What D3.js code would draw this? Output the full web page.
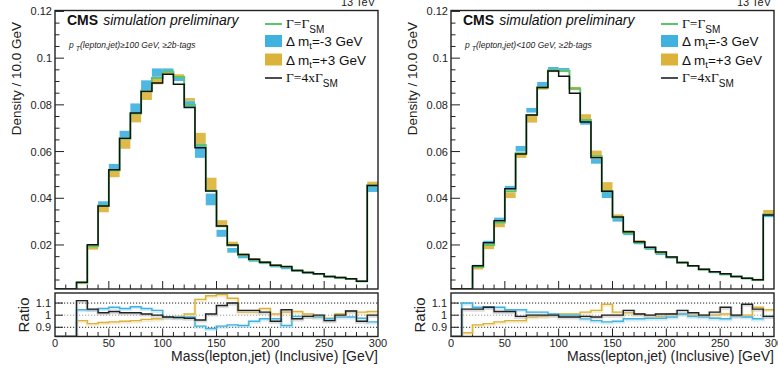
<!DOCTYPE html>
<html><head><meta charset="utf-8">
<script src="https://cdn.jsdelivr.net/npm/d3@7"></script>
<style>
html,body{margin:0;padding:0;background:#fff;}
svg{display:block;font-family:"Liberation Sans",Arial,sans-serif;}
</style></head>
<body><svg id="c" width="778" height="374"></svg>
<script>
// ---- data ----
const binLow = [0,10,20,30,40,50,60,70,80,90,100,110,120,130,140,150,160,170,180,190,200,210,220,230,240,250,260,270,280,290];
const binWidth = 10;
const xTicks = [0,50,100,150,200,250,300];
const yTicks = [0.02,0.04,0.06,0.08,0.1,0.12];
const yTickLabels = ["0.02","0.04","0.06","0.08","0.1","0.12"];
const ratioTicks = [0.9,1,1.1];
const ratioTickLabels = ["0.9","1","1.1"];

const leftNominal = [0,0,0.0038,0.0195,0.0368,0.0520,0.0655,0.0763,0.0860,0.0915,0.0942,0.0919,0.0800,0.0628,0.0432,0.0280,0.0198,0.0156,0.0137,0.0125,0.0112,0.0106,0.0091,0.0082,0.0076,0.0065,0.0060,0.0054,0.0045,0.0455];
const leftWidth4x = [0,0,0.0040,0.0201,0.0367,0.0522,0.0657,0.0765,0.0857,0.0894,0.0931,0.0888,0.0789,0.0616,0.0431,0.0281,0.0200,0.0159,0.0139,0.0126,0.0113,0.0108,0.0091,0.0082,0.0077,0.0065,0.0061,0.0055,0.0045,0.0455];
const leftMtm3 = [0,0,0.0038,0.0200,0.0377,0.0535,0.0675,0.0785,0.0882,0.0938,0.0947,0.0910,0.0803,0.0604,0.0395,0.0250,0.0177,0.0150,0.0133,0.0122,0.0108,0.0100,0.0089,0.0080,0.0074,0.0064,0.0059,0.0053,0.0044,0.0441];
const leftMtm3Err = [0,0,0.0003,0.0004,0.0010,0.0012,0.0014,0.0021,0.0023,0.0018,0.0009,0.0008,0.0013,0.0031,0.0025,0.0015,0.0010,0.0007,0.0005,0.0004,0.0004,0.0004,0.0003,0.0003,0.0003,0.0003,0.0003,0.0003,0.0003,0.0014];
const leftMtp3 = [0,0,0.0035,0.0188,0.0353,0.0505,0.0632,0.0745,0.0837,0.0902,0.0937,0.0925,0.0823,0.0657,0.0460,0.0293,0.0207,0.0160,0.0141,0.0128,0.0113,0.0107,0.0092,0.0083,0.0076,0.0064,0.0061,0.0055,0.0045,0.0463];
const leftMtp3Err = [0,0,0.0003,0.0008,0.0013,0.0015,0.0020,0.0020,0.0016,0.0014,0.0006,0.0006,0.0006,0.0023,0.0028,0.0013,0.0007,0.0004,0.0003,0.0003,0.0003,0.0003,0.0003,0.0003,0.0003,0.0003,0.0003,0.0003,0.0003,0.0008];
const leftRatio4x = [0,0,1.12,1.05,1.02,1.03,1.02,1.02,1.01,1.0,0.985,0.98,0.975,0.96,1.01,1.08,1.10,1.04,1.04,1.025,0.95,1.045,0.97,0.99,1.0,0.955,1.0,1.035,0.95,1.0];
const leftRatioMtm3 = [0,0,1.045,1.045,1.055,1.065,1.055,1.07,1.055,1.04,0.985,0.985,0.985,0.91,0.89,0.91,0.92,0.915,0.95,0.97,0.97,0.915,0.99,0.99,0.985,0.97,0.985,0.985,0.975,0.945];
const leftRatioMtp3 = [0,0,0.955,0.93,0.94,0.945,0.95,0.955,0.965,0.97,0.985,0.99,1.01,1.13,1.16,1.17,1.14,1.025,1.025,1.055,1.01,1.025,1.03,1.01,0.985,0.975,1.01,1.035,1.025,1.03];

const rightNominal = [0,0.0004,0.0106,0.0200,0.0296,0.0430,0.0593,0.0757,0.0874,0.0947,0.0945,0.0870,0.0735,0.0580,0.0430,0.0318,0.0251,0.0212,0.0188,0.0168,0.0147,0.0124,0.0110,0.0095,0.0084,0.0075,0.0065,0.0057,0.0050,0.0330];
const rightWidth4x = [0,0.0004,0.0111,0.0210,0.0304,0.0441,0.0590,0.0757,0.0874,0.0945,0.0923,0.0850,0.0727,0.0573,0.0430,0.0320,0.0257,0.0214,0.0190,0.0170,0.0148,0.0125,0.0111,0.0096,0.0085,0.0077,0.0065,0.0058,0.0051,0.0328];
const rightMtm3 = [0,0.0004,0.0112,0.0212,0.0310,0.0445,0.0612,0.0777,0.0886,0.0955,0.0952,0.0870,0.0725,0.0558,0.0414,0.0310,0.0247,0.0207,0.0183,0.0162,0.0145,0.0125,0.0109,0.0094,0.0082,0.0073,0.0064,0.0056,0.0048,0.0325];
const rightMtm3Err = [0,0,0.0003,0.0006,0.0007,0.0008,0.0012,0.0010,0.0012,0.0007,0.0006,0.0006,0.0010,0.0010,0.0013,0.0010,0.0005,0.0004,0.0004,0.0005,0.0003,0.0003,0.0003,0.0003,0.0003,0.0002,0.0002,0.0002,0.0002,0.0006];
const rightMtp3 = [0,0.0003,0.0099,0.0189,0.0285,0.0413,0.0581,0.0742,0.0870,0.0945,0.0945,0.0870,0.0748,0.0592,0.0450,0.0326,0.0258,0.0217,0.0188,0.0166,0.0149,0.0125,0.0110,0.0095,0.0084,0.0076,0.0065,0.0057,0.0053,0.0339];
const rightMtp3Err = [0,0,0.0004,0.0007,0.0009,0.0012,0.0008,0.0018,0.0005,0.0005,0.0005,0.0007,0.0012,0.0012,0.0019,0.0005,0.0005,0.0004,0.0003,0.0003,0.0003,0.0003,0.0003,0.0003,0.0003,0.0002,0.0002,0.0002,0.0002,0.0011];
const rightRatio4x = [0,1.05,1.05,1.065,1.03,1.03,0.99,1.0,1.0,1.0,0.985,0.985,0.99,0.985,1.0,1.0,1.04,1.01,1.0,1.01,1.01,1.04,1.02,1.0,1.025,1.065,1.0,1.09,1.05,0.99];
const rightRatioMtm3 = [0,1.1,1.065,1.07,1.065,1.045,1.045,1.025,1.025,1.01,1.0,1.0,0.97,0.955,0.945,0.95,0.97,0.97,0.975,0.975,0.985,1.01,0.99,0.985,0.975,0.97,0.99,0.985,0.97,0.99];
const rightRatioMtp3 = [0,0.855,0.92,0.93,0.945,0.955,0.955,0.985,0.99,1.0,1.01,1.01,1.025,1.04,1.09,1.025,1.02,1.01,1.0,0.99,1.01,1.01,1.0,1.0,1.0,1.01,1.0,1.0,1.065,1.045];

const COL_GREEN = "#5cc46c", COL_BLUE = "#3fb2e0", COL_ORANGE = "#dcb33a", COL_BLACK = "#111";

const svg = d3.select("#c");

function panel(ox, P, subtitle, idx) {
  const x0 = 55 + ox, x1 = 378 + ox;
  const mTop = 10.5, mBot = 289, rTop = 293, rBot = 336.5;
  const x = d3.scaleLinear().domain([0,300]).range([x0,x1]);
  const y = d3.scaleLinear().domain([0.00115,0.1204]).range([mBot,mTop]).clamp(true);
  const yr = d3.scaleLinear().domain([0.824,1.183]).range([rBot,rTop]).clamp(true);
  const g = svg.append("g");

  const defs = svg.append("defs");
  defs.append("clipPath").attr("id","cm"+idx).append("rect").attr("x",x0).attr("y",mTop).attr("width",x1-x0).attr("height",mBot-mTop);
  defs.append("clipPath").attr("id","cr"+idx).append("rect").attr("x",x0).attr("y",rTop-2).attr("width",x1-x0).attr("height",rBot-rTop+2);

  const main = g.append("g").attr("clip-path","url(#cm"+idx+")");
  // bands
  function band(vals, errs, col) {
    main.append("g").selectAll("rect").data(binLow.map((b,i)=>({b,v:vals[i],e:errs[i]})).filter(d=>d.v>0))
      .join("rect")
      .attr("x",d=>x(d.b)).attr("width",d=>x(d.b+binWidth)-x(d.b))
      .attr("y",d=>y(d.v+Math.max(d.e,0.00025))).attr("height",d=>Math.max(1.2,y(d.v-Math.max(d.e,0.00025))-y(d.v+Math.max(d.e,0.00025))))
      .attr("fill",col).attr("opacity",0.92);
  }
  band(P.mtm3, P.mtm3Err, COL_BLUE);
  band(P.mtp3, P.mtp3Err, COL_ORANGE);

  const stepLine = (sc) => d3.line().x(d=>x(d[0])).y(d=>sc(d[1])).curve(d3.curveStepAfter);
  const pts = vals => binLow.map((b,i)=>[b,vals[i]]).concat([[300, vals[vals.length-1]]]);
  main.append("path").attr("d",stepLine(y)(pts(P.nominal))).attr("fill","none").attr("stroke",COL_GREEN).attr("stroke-width",2);
  main.append("path").attr("d",stepLine(y)(pts(P.width4x))).attr("fill","none").attr("stroke",COL_BLACK).attr("stroke-width",1.5);

  // main frame
  g.append("rect").attr("x",x0).attr("y",mTop).attr("width",x1-x0).attr("height",mBot-mTop).attr("fill","none").attr("stroke","#222").attr("stroke-width",1.4);

  // y ticks main
  const minorY = d3.range(0.005,0.1204,0.005);
  g.append("g").selectAll("line").data(minorY).join("line")
    .attr("x1",x0).attr("x2",d=>x0+(yTicks.some(t=>Math.abs(t-d)<1e-6)?9:4.5))
    .attr("y1",d=>y(d)).attr("y2",d=>y(d)).attr("stroke","#222").attr("stroke-width",1);
  g.append("g").selectAll("text").data(yTicks).join("text")
    .attr("x",x0-3).attr("y",d=>y(d)+4).attr("text-anchor","end").attr("font-size",11).attr("fill","#222")
    .text((d,i)=>yTickLabels[i]);
  // x ticks (main bottom and ratio bottom)
  const minorX = d3.range(10,300,10);
  [[mBot],[rBot]].forEach(([yb])=>{
    g.append("g").selectAll("line").data(minorX).join("line")
      .attr("x1",d=>x(d)).attr("x2",d=>x(d)).attr("y1",yb).attr("y2",d=>yb-(d%50===0?8:4.5))
      .attr("stroke","#222").attr("stroke-width",1);
  });

  // ratio panel
  const rp = g.append("g");
  ratioTicks.forEach((t,i)=>{
    rp.append("line").attr("x1",x0).attr("x2",x1).attr("y1",yr(t)).attr("y2",yr(t))
      .attr("stroke", t===1 ? "#999" : "#222").attr("stroke-width",1).attr("stroke-dasharray","1.2,1.8");
  });
  const rc = rp.append("g").attr("clip-path","url(#cr"+idx+")");
  function rline(vals, col, halo) {
    rc.append("path").attr("d",stepLine(yr)(pts(vals))).attr("fill","none").attr("stroke",halo).attr("stroke-width",3.2).attr("transform","translate(0,1)").attr("opacity",0.5);
    rc.append("path").attr("d",stepLine(yr)(pts(vals))).attr("fill","none").attr("stroke",col).attr("stroke-width",1.4);
  }
  rline(P.rMtp3, COL_ORANGE, "#efdca0");
  rline(P.rMtm3, COL_BLUE, "#a9dcf0");
  rline(P.r4x, "#222", "#bbb");
  rp.append("rect").attr("x",x0).attr("y",rTop).attr("width",x1-x0).attr("height",rBot-rTop).attr("fill","none").attr("stroke","#222").attr("stroke-width",1.4);
  rp.append("g").selectAll("line").data(ratioTicks).join("line")
    .attr("x1",x0).attr("x2",x0+8).attr("y1",d=>yr(d)).attr("y2",d=>yr(d)).attr("stroke","#222");
  rp.append("g").selectAll("text").data(ratioTicks).join("text")
    .attr("x",x0-4).attr("y",d=>yr(d)+4).attr("text-anchor","end").attr("font-size",11).attr("fill","#222")
    .text((d,i)=>ratioTickLabels[i]);
  rp.append("g").selectAll("text").data(xTicks).join("text")
    .attr("x",d=>x(d)).attr("y",rBot+10).attr("text-anchor","middle").attr("font-size",11).attr("fill","#222").text(d=>d);

  // titles
  g.append("text").attr("transform",`translate(${ox+21},22) rotate(-90)`).attr("text-anchor","end")
    .attr("font-size",13.5).attr("fill","#222").text("Density / 10.0 GeV");
  g.append("text").attr("transform",`translate(${ox+29},315) rotate(-90)`).attr("text-anchor","middle")
    .attr("font-size",15).attr("fill","#222").text("Ratio");
  g.append("text").attr("x",x1).attr("y",361).attr("text-anchor","end").attr("font-size",14).attr("fill","#222")
    .text("Mass(lepton,jet) (Inclusive) [GeV]");
  g.append("text").attr("x",x1-3).attr("y",6).attr("text-anchor","end").attr("font-size",11).attr("fill","#222").text("13 TeV");

  // CMS label
  const cms = g.append("text").attr("x",x0+12).attr("y",25).attr("font-size",14).attr("fill","#111");
  cms.append("tspan").attr("font-weight","bold").text("CMS");
  cms.append("tspan").attr("font-style","italic").attr("dx",5).text("simulation preliminary");
  const st = g.append("text").attr("x",x0+14).attr("y",48).attr("font-size",8.5).attr("font-style","italic").attr("fill","#222");
  st.append("tspan").text("p");
  st.append("tspan").attr("dy",2.5).attr("font-size",7).text(" T");
  st.append("tspan").attr("dy",-2.5).text(subtitle);

  // legend
  const lx = 265 + ox, tx = 286 + ox;
  const serif = '"Liberation Serif","DejaVu Serif",serif';
  // row 1
  g.append("line").attr("x1",lx).attr("x2",lx+17).attr("y1",24).attr("y2",24).attr("stroke",COL_GREEN).attr("stroke-width",2);
  let t = g.append("text").attr("x",tx).attr("y",28).attr("font-size",13.5).attr("fill","#111");
  t.append("tspan").attr("font-family",serif).text("Γ=Γ");
  t.append("tspan").attr("dy",5).attr("font-size",10).text("SM");
  // row 2
  g.append("rect").attr("x",lx).attr("y",35).attr("width",17).attr("height",12).attr("fill",COL_BLUE);
  t = g.append("text").attr("x",tx).attr("y",46).attr("font-size",13.5).attr("fill","#111");
  t.append("tspan").text("Δ m");
  t.append("tspan").attr("dy",3).attr("font-size",9.5).text("t");
  t.append("tspan").attr("dy",-3).text("=-3 GeV");
  // row 3
  g.append("rect").attr("x",lx).attr("y",53.5).attr("width",17).attr("height",12).attr("fill",COL_ORANGE);
  t = g.append("text").attr("x",tx).attr("y",64.5).attr("font-size",13.5).attr("fill","#111");
  t.append("tspan").text("Δ m");
  t.append("tspan").attr("dy",3).attr("font-size",9.5).text("t");
  t.append("tspan").attr("dy",-3).text("=+3 GeV");
  // row 4
  g.append("line").attr("x1",lx).attr("x2",lx+17).attr("y1",78).attr("y2",78).attr("stroke",COL_BLACK).attr("stroke-width",1.5);
  t = g.append("text").attr("x",tx).attr("y",82).attr("font-size",13.5).attr("fill","#111");
  t.append("tspan").attr("font-family",serif).text("Γ=4xΓ");
  t.append("tspan").attr("dy",5).attr("font-size",10).text("SM");
}

panel(0, {nominal:leftNominal, width4x:leftWidth4x, mtm3:leftMtm3, mtm3Err:leftMtm3Err, mtp3:leftMtp3, mtp3Err:leftMtp3Err,
  r4x:leftRatio4x, rMtm3:leftRatioMtm3, rMtp3:leftRatioMtp3}, "(lepton,jet)≥100 GeV, ≥2b-tags", 0);
panel(396, {nominal:rightNominal, width4x:rightWidth4x, mtm3:rightMtm3, mtm3Err:rightMtm3Err, mtp3:rightMtp3, mtp3Err:rightMtp3Err,
  r4x:rightRatio4x, rMtm3:rightRatioMtm3, rMtp3:rightRatioMtp3}, "(lepton,jet)<100 GeV, ≥2b-tags", 1);
</script>
</body></html>
